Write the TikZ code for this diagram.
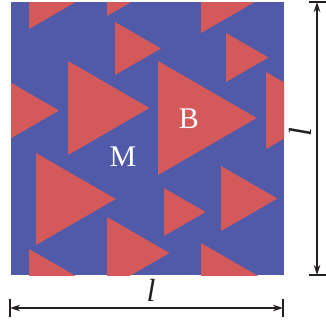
\documentclass[tikz,border=0pt]{standalone}
\usepackage{fontspec}
\setmainfont{Liberation Serif}
\usetikzlibrary{arrows.meta}
\definecolor{bgblue}{RGB}{80,90,168}
\definecolor{trired}{RGB}{212,89,91}
\definecolor{dimgray}{RGB}{35,31,32}
\newcommand\redtri[3]{%
  \fill[trired] (#1,#2) -- ({#1+0.8660254*#3},{#2+0.5*#3}) -- (#1,{#2+#3}) -- cycle;}
\tikzset{
  dimline/.style={draw=dimgray, line width=1.8pt, {Stealth[length=10pt,width=6.5pt]}-{Stealth[length=10pt,width=6.5pt]}},
  dimbar/.style={draw=dimgray, line width=1.8pt},
  label/.style={text=white, font=\fontsize{30}{36}\selectfont, inner sep=0pt},
  dimlabel/.style={text=dimgray, font=\fontsize{32}{38}\selectfont\itshape, inner sep=0pt}
}
\begin{document}
\begin{tikzpicture}[x=1pt,y=-1pt]
\useasboundingbox (0,0) rectangle (326,325);
\begin{scope}
  \clip (11,2) rectangle (284,275);
  \fill[bgblue] (11,2) rectangle (284,275);
  \redtri{29}{-31}{60}
  \redtri{107}{-20}{36}
  \redtri{201}{-37}{70}
  \redtri{115}{22}{53}
  \redtri{68}{61}{94}
  \redtri{-10.3}{70.5}{80}
  \redtri{158}{61}{114}
  \redtri{226}{33}{49}
  \redtri{266}{72}{77}
  \redtri{36}{153}{92}
  \redtri{29}{249}{60}
  \redtri{107}{217}{72}
  \redtri{164}{188}{48}
  \redtri{221}{166}{65}
  \redtri{201}{243}{70}
\end{scope}
\node[label] (B) at (189,119) {B};
\node[label] (M) at (123,157) {M};
% vertical dimension
\coordinate (vt) at (317,2);
\coordinate (vb) at (317,275);
\coordinate (vtl) at (309,2);
\coordinate (vtr) at (326,2);
\coordinate (vbl) at (309,275);
\coordinate (vbr) at (326,275);
\draw[dimbar] (vtl) -- (vtr);
\draw[dimbar] (vbl) -- (vbr);
\draw[dimline] (vt) -- (vb);
\node[dimlabel, rotate=90] (lv) at (300,132) {l};
% horizontal dimension
\coordinate (hl) at (10,308);
\coordinate (hr) at (283,308);
\coordinate (hlt) at (10,299);
\coordinate (hlb) at (10,317);
\coordinate (hrt) at (283,299);
\coordinate (hrb) at (283,317);
\draw[dimbar] (hlt) -- (hlb);
\draw[dimbar] (hrt) -- (hrb);
\draw[dimline] (hl) -- (hr);
\node[dimlabel] (lh) at (151,290) {l};
\end{tikzpicture}
\end{document}
